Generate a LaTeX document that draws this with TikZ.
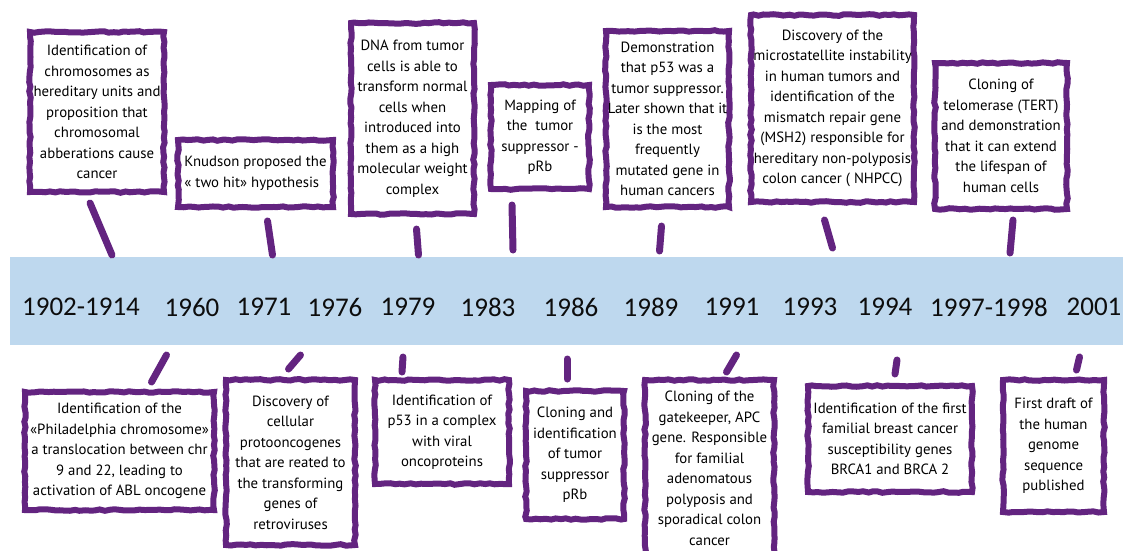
\documentclass[tikz,border=0pt]{standalone}
\usepackage{fontspec}
\setmainfont{PT Sans}
\newfontfamily\yearfont{Carlito}
\usetikzlibrary{calc,decorations.pathmorphing}
\definecolor{grape}{RGB}{99,36,128}
\definecolor{bandblue}{RGB}{190,216,238}

\begin{document}
\begin{tikzpicture}[x=1pt,y=-1pt,
    event/.style={draw=grape,line width=6pt,fill=white,inner sep=0pt,align=center,
      font=\fontsize{14.8}{20.5}\selectfont,decorate,
      decoration={random steps,segment length=5pt,amplitude=0.8pt}},
    stem/.style={draw=grape,line width=7pt,line cap=round},
    yr/.style={font=\yearfont\fontsize{27}{27}\selectfont,text=black!95}]
    \useasboundingbox (0,0) rectangle (1123,550);
    \clip (0,0) rectangle (1123,550);
    % the time band, years sit on its middle
    \fill[bandblue] (10,257) rectangle (1123,345);
    \foreach \px/\yy [count=\i] in {81/1902-1914,192/1960,264/1971,335/1976,408/1979,
        488/1983,571/1986,651/1989,732/1991,810/1993,885/1994,989/1997-1998,1094/2001}
      \node[yr] (yr\i) at (\px,307) {\yy};

    % events above the band
    \node[event,minimum width=134,minimum height=160] (t1) at (97,112)
      {Identification of\\chromosomes as\\hereditary units and\\proposition that\\chromosomal\\abberations cause\\cancer};
    \node[event,minimum width=155,minimum height=67,align=left] (t2) at (255.5,173.5)
      {Knudson proposed the\\« two hit» hypothesis};
    \node[event,minimum width=123,minimum height=191] (t3) at (412.5,118.5)
      {DNA from tumor\\cells is able to\\transform normal\\cells when\\introduced into\\them as a high\\molecular weight\\complex};
    \node[event,minimum width=98,minimum height=104] (t4) at (540,137)
      {Mapping of\\the\ \ tumor\\suppressor -\\pRb};
    \node[event,minimum width=123,minimum height=176] (t5) at (667.5,119)
      {Demonstration\\that p53 was a\\tumor suppressor.\\Later shown that it\\is the most\\frequently\\mutated gene in\\human cancers};
    \node[event,minimum width=163,minimum height=187] (t6) at (832.5,108.5)
      {Discovery of the\\microstatellite instability\\in human tumors and\\identification of the\\mismatch repair gene\\(MSH2) responsible for\\hereditary non-polyposis\\colon cancer ( NHPCC)};
    \node[event,minimum width=132,minimum height=146] (t7) at (1001,136)
      {Cloning of\\telomerase (TERT)\\and demonstration\\that it can extend\\the lifespan of\\human cells};

    % events below the band
    \node[event,minimum width=189,minimum height=118] (b1) at (119.5,451)
      {Identification of the\\«Philadelphia chromosome»\\a translocation between chr\\9 and 22, leading to\\activation of ABL oncogene};
    \node[event,minimum width=129,minimum height=165] (b2) at (290.5,462.5)
      {Discovery of\\cellular\\protooncogenes\\that are reated to\\the transforming\\genes of\\retroviruses};
    \node[event,minimum width=134,minimum height=104] (b3) at (442,432)
      {Identification of\\p53 in a complex\\with viral\\oncoproteins};
    \node[event,minimum width=98,minimum height=128] (b4) at (575,455)
      {Cloning and\\identification\\of tumor\\suppressor\\pRb};
    \node[event,minimum width=129,minimum height=177] (b5) at (709.5,468.5)
      {Cloning of the\\gatekeeper, APC\\gene. Responsible\\for familial\\adenomatous\\polyposis and\\sporadical colon\\cancer};
    \node[event,minimum width=164,minimum height=106] (b6) at (890,439)
      {Identification of the first\\familial breast cancer\\susceptibility genes\\BRCA1 and BRCA 2};
    \node[event,minimum width=101,minimum height=132] (b7) at (1053.5,446)
      {First draft of\\the human\\genome\\sequence\\published};

    % stems pointing at the band
    \draw[stem] ($(t1.south)+(-7,8)$) -- ($(t1.south)+(15,60)$);
    \draw[stem] ($(t2.south)+(12,11)$) -- ($(t2.south)+(17,45)$);
    \draw[stem] ($(t3.south)+(4,12)$) -- ($(t3.south)+(6,38)$);
    \draw[stem] ($(t4.south)+(-28,13)$) -- ($(t4.south)+(-27,58)$);
    \draw[stem] ($(t5.south)+(-6,16)$) -- ($(t5.south)+(-8,41)$);
    \draw[stem] ($(t6.south)+(-8,15)$) -- ($(t6.south)+(0,43)$);
    \draw[stem] ($(t7.south)+(12,8)$) -- ($(t7.south)+(9,41)$);
    \draw[stem] ($(b1.north)+(32,-7)$) -- ($(b1.north)+(47,-34)$);
    \draw[stem] ($(b2.north)+(-2,-8)$) -- ($(b2.north)+(10,-22)$);
    \draw[stem] ($(b3.north)+(-40,-5)$) -- ($(b3.north)+(-39,-20)$);
    \draw[stem] ($(b4.north)+(-8,-9)$) -- ($(b4.north)+(-8,-29)$);
    \draw[stem] ($(b5.north)+(17,-5)$) -- ($(b5.north)+(27,-22)$);
    \draw[stem] ($(b6.north)+(5,-9)$) -- ($(b6.north)+(7,-23)$);
    \draw[stem] ($(b7.north)+(23,-7)$) -- ($(b7.north)+(26,-20)$);
  \end{tikzpicture}
\end{document}
